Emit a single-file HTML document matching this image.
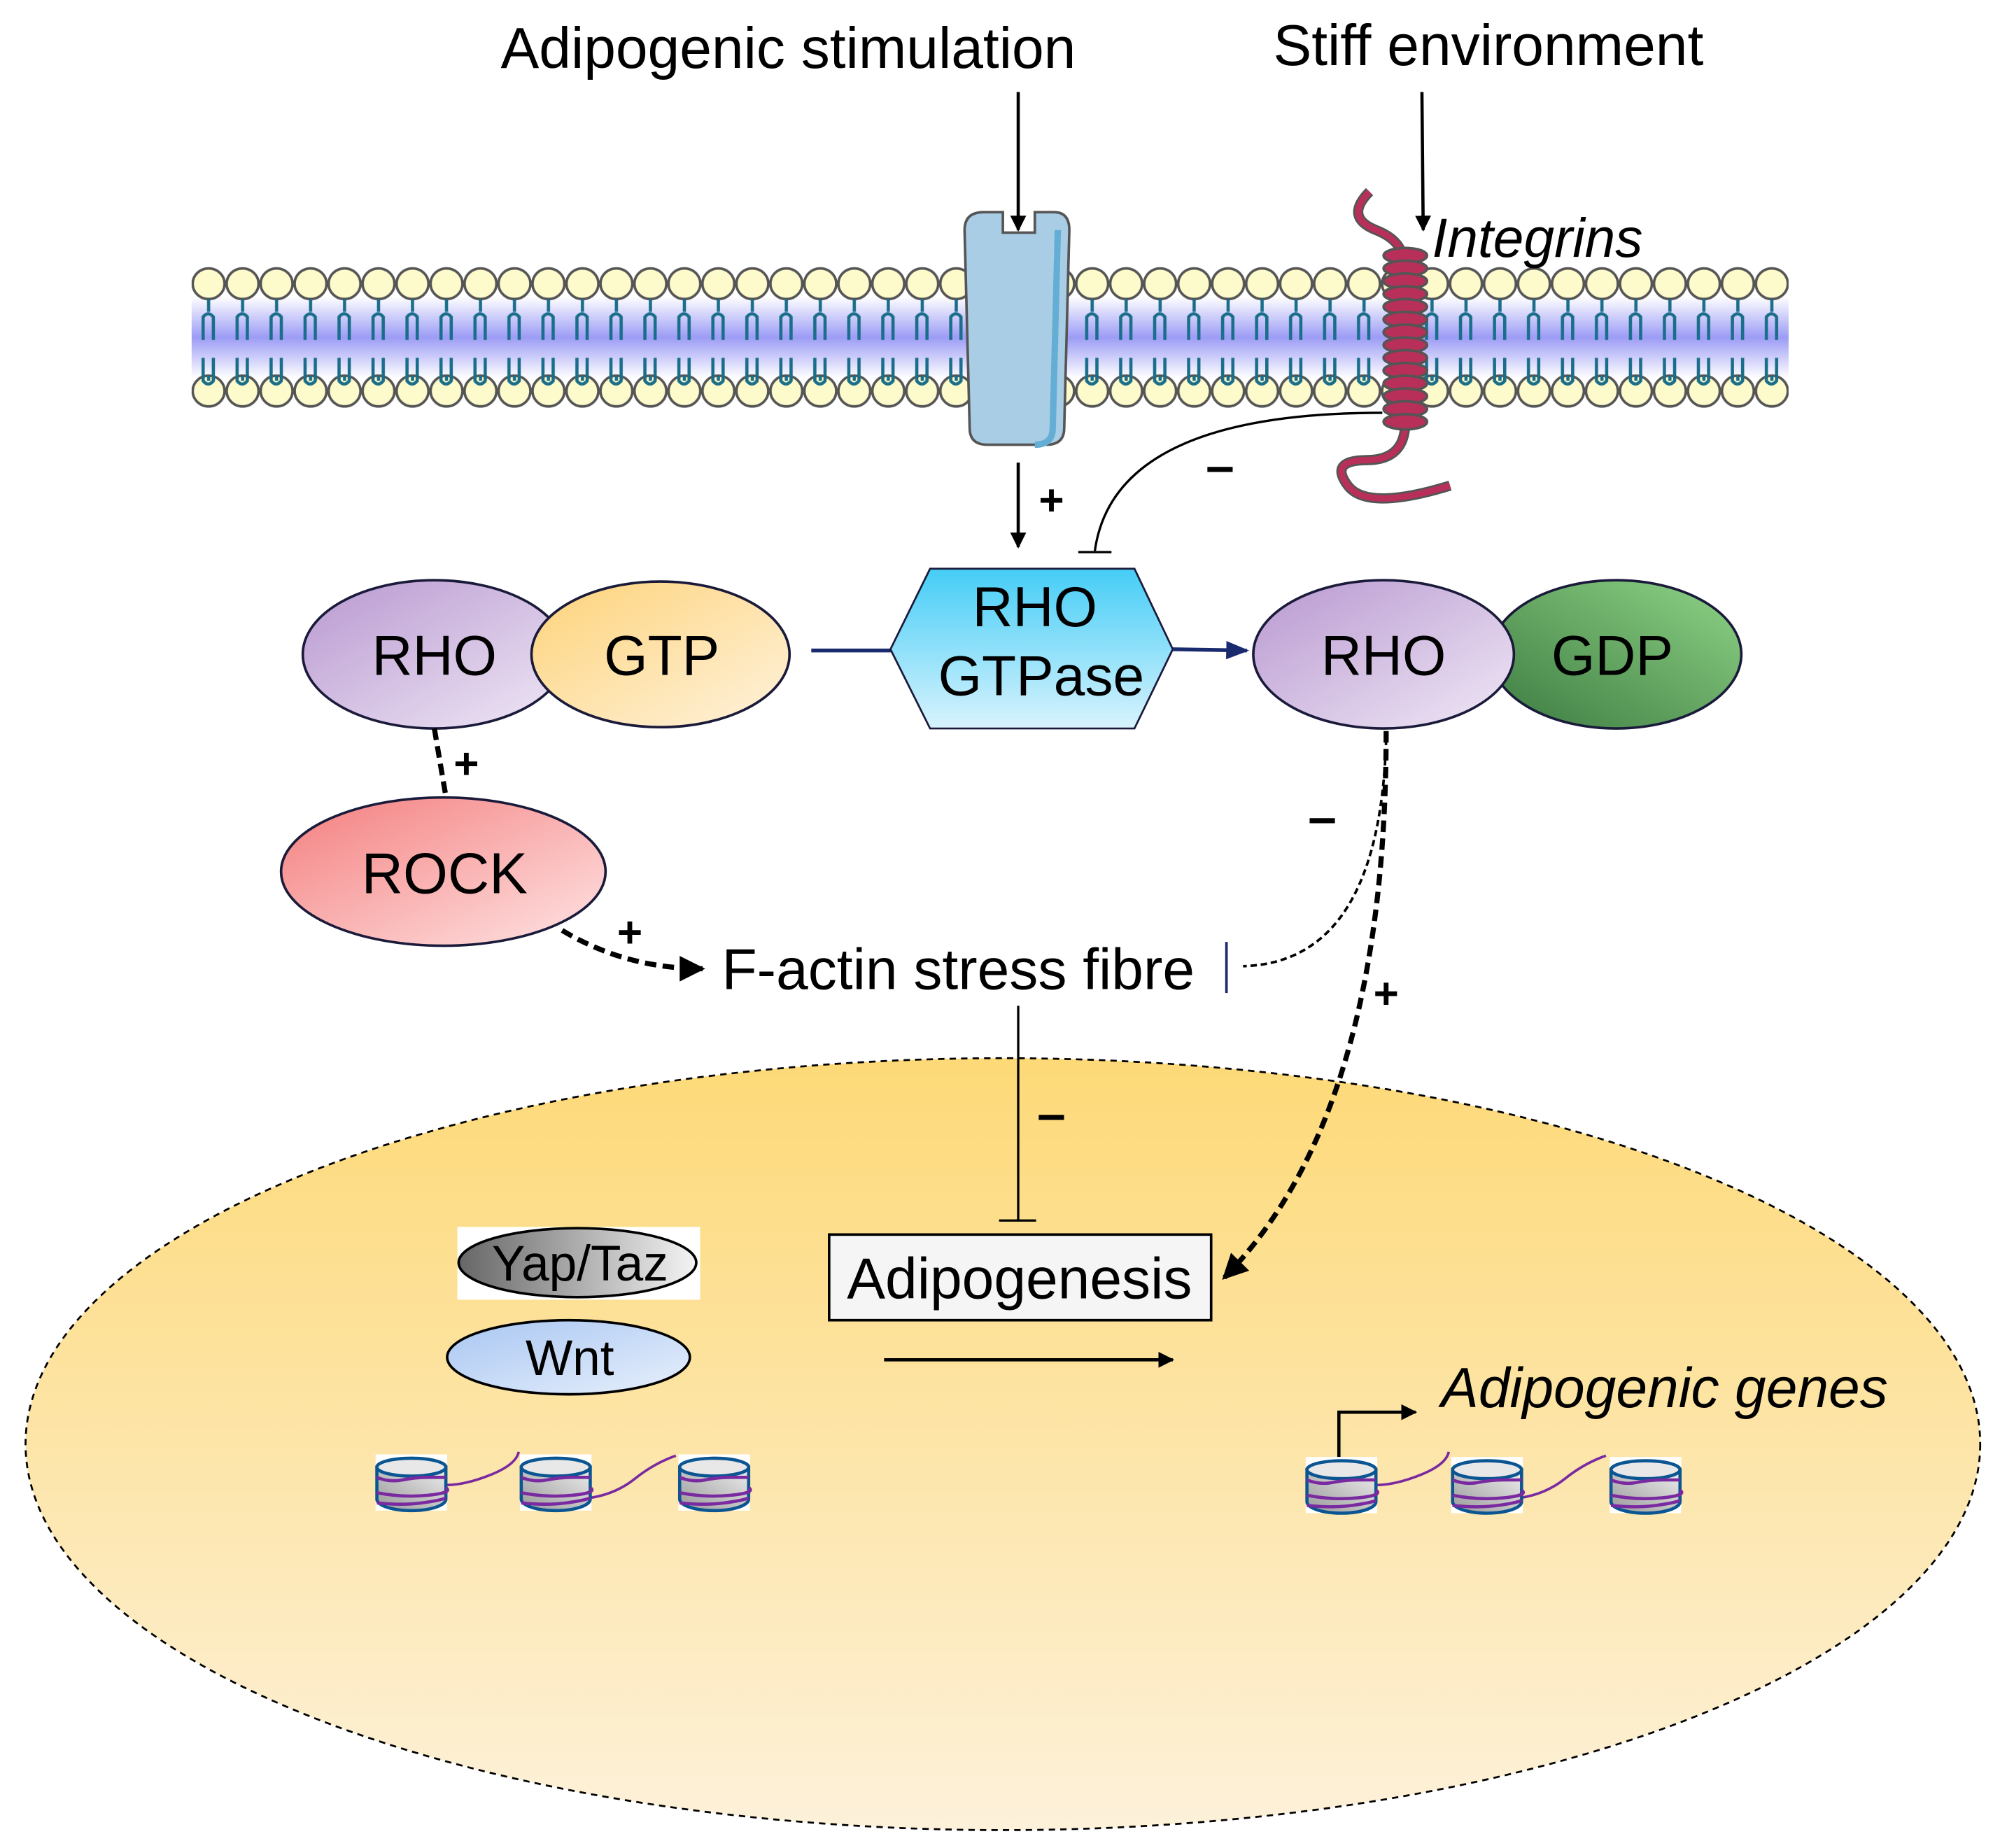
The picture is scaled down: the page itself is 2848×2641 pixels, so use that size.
<!DOCTYPE html>
<html><head><meta charset="utf-8"><style>html,body{margin:0;padding:0;background:#fff}svg{display:block}</style></head>
<body>
<svg width="2848" height="2641" viewBox="0 0 1560 1446" preserveAspectRatio="none" xmlns="http://www.w3.org/2000/svg" xmlns:xlink="http://www.w3.org/1999/xlink" font-family="Liberation Sans, Arial, sans-serif">
<defs>
<linearGradient id="band" x1="0" y1="0" x2="0" y2="1"><stop offset="0" stop-color="#fff"/><stop offset="0.5" stop-color="#9c9cf6"/><stop offset="1" stop-color="#fff"/></linearGradient>
<pattern id="lip" x="150" y="200" width="26.6" height="130" patternUnits="userSpaceOnUse">
<ellipse cx="13.3" cy="22" rx="12.5" ry="12" fill="#fdfacc" stroke="#555" stroke-width="2"/>
<ellipse cx="13.3" cy="106" rx="12.5" ry="12" fill="#fdfacc" stroke="#555" stroke-width="2"/>
<path d="M13.3 34v10M9 66v-18q4-5 8 0v18M9 80v18q4 5 8 0v-18M13.3 98v-4" stroke="#1a6e8a" stroke-width="2.5" fill="none"/>
</pattern>
<linearGradient id="nuc" x1="0" y1="0" x2="0" y2="1"><stop offset="0" stop-color="#fdd977"/><stop offset="1" stop-color="#fdf1da"/></linearGradient>
<linearGradient id="pur" x1="0" y1="0" x2="1" y2="1"><stop offset="0" stop-color="#b898d0"/><stop offset="1" stop-color="#f0e8f6"/></linearGradient>
<linearGradient id="yel" x1="0" y1="0" x2="1" y2="1"><stop offset="0" stop-color="#fdd37a"/><stop offset="1" stop-color="#fff2dc"/></linearGradient>
<linearGradient id="grn" x1="0" y1="1" x2="1" y2="0"><stop offset="0" stop-color="#3c7a40"/><stop offset="1" stop-color="#8fd487"/></linearGradient>
<linearGradient id="cyan" x1="0" y1="0" x2="0" y2="1"><stop offset="0" stop-color="#45cdf6"/><stop offset="1" stop-color="#d8f3fd"/></linearGradient>
<linearGradient id="pink" x1="0" y1="0" x2="1" y2="1"><stop offset="0" stop-color="#f47e7e"/><stop offset="1" stop-color="#ffe4e4"/></linearGradient>
<linearGradient id="gray" x1="0" y1="0" x2="1" y2="0"><stop offset="0" stop-color="#666"/><stop offset="1" stop-color="#f4f4f4"/></linearGradient>
<linearGradient id="blu" x1="0" y1="0" x2="1" y2="1"><stop offset="0" stop-color="#a8c6f2"/><stop offset="1" stop-color="#e8f0fc"/></linearGradient>
<linearGradient id="cylg" x1="0" y1="1" x2="1" y2="0"><stop offset="0" stop-color="#999"/><stop offset="1" stop-color="#eee"/></linearGradient>
<marker id="ah" viewBox="0 0 10 10" refX="9" refY="5" markerWidth="5" markerHeight="5" orient="auto"><path d="M0 0L10 5L0 10z" fill="#000"/></marker>
<marker id="ahn" viewBox="0 0 10 10" refX="9" refY="5" markerWidth="6" markerHeight="6" orient="auto"><path d="M0 1L10 5L0 9z" fill="#1a2a6e"/></marker>
</defs>
<rect width="1560" height="1446" fill="#fff"/>
<!-- nucleus -->
<ellipse cx="785" cy="1130" rx="765" ry="302" fill="url(#nuc)" stroke="#000" stroke-width="1.5" stroke-dasharray="5 4"/>
<!-- membrane -->
<rect x="150" y="232" width="1250" height="64" fill="url(#band)"/>
<rect x="150" y="200" width="1250" height="130" fill="url(#lip)"/>
<!-- receptor -->
<path d="M770 166h15v16h25v-16h15q12 0 12 14l-4 155q0 13-14 13h-46q-14 0-14-13l-4-155q0-14 15-14z" fill="#a9cde4" stroke="#555" stroke-width="2"/>
<path d="M828 180l-4 155q0 13-14 13" stroke="#64aed6" stroke-width="5" fill="none"/>
<!-- integrin -->
<path d="M1072 150q-20 20 5 30t20 30M1100 330q0 30-30 30t-15 20 80 0" stroke="#555" stroke-width="8" fill="none"/>
<path d="M1072 150q-20 20 5 30t20 30M1100 330q0 30-30 30t-15 20 80 0" stroke="#b8305a" stroke-width="5" fill="none"/>
<g stroke="#555" stroke-width="2" fill="#b8305a">
<ellipse cx="1100" cy="200" rx="17" ry="6"/><ellipse cx="1100" cy="210" rx="17" ry="6"/><ellipse cx="1100" cy="220" rx="17" ry="6"/><ellipse cx="1100" cy="230" rx="17" ry="6"/><ellipse cx="1100" cy="240" rx="17" ry="6"/><ellipse cx="1100" cy="250" rx="17" ry="6"/><ellipse cx="1100" cy="260" rx="17" ry="6"/><ellipse cx="1100" cy="270" rx="17" ry="6"/><ellipse cx="1100" cy="280" rx="17" ry="6"/><ellipse cx="1100" cy="290" rx="17" ry="6"/><ellipse cx="1100" cy="300" rx="17" ry="6"/><ellipse cx="1100" cy="310" rx="17" ry="6"/><ellipse cx="1100" cy="320" rx="17" ry="6"/><ellipse cx="1100" cy="330" rx="17" ry="6"/>
</g>
<!-- top texts & arrows -->
<text x="617" y="53" font-size="45" text-anchor="middle">Adipogenic stimulation</text>
<text x="1165" y="51" font-size="45" text-anchor="middle">Stiff environment</text>
<text x="1121" y="201" font-size="43" font-style="italic">Integrins</text>
<line x1="797" y1="72" x2="797" y2="180" stroke="#000" stroke-width="2.5" marker-end="url(#ah)"/>
<line x1="1113" y1="72" x2="1114" y2="180" stroke="#000" stroke-width="2.5" marker-end="url(#ah)"/>
<line x1="797" y1="362" x2="797" y2="428" stroke="#000" stroke-width="2.5" marker-end="url(#ah)"/>
<text x="823" y="403" font-size="34" font-weight="bold" text-anchor="middle">+</text>
<path d="M1082 323q-210 0-225 108" stroke="#000" stroke-width="1.8" fill="none"/>
<line x1="844" y1="432" x2="870" y2="432" stroke="#000" stroke-width="1.8"/>
<text x="955" y="378" font-size="40" font-weight="bold" text-anchor="middle">–</text>
<!-- RHO GTP -->
<ellipse cx="340" cy="512" rx="103" ry="58" fill="url(#pur)" stroke="#1a1a3a" stroke-width="2"/>
<ellipse cx="517" cy="512" rx="101" ry="57" fill="url(#yel)" stroke="#1a1a3a" stroke-width="2"/>
<text x="340" y="528" font-size="44" text-anchor="middle">RHO</text>
<text x="518" y="528" font-size="44" text-anchor="middle">GTP</text>
<line x1="635" y1="509" x2="698" y2="509" stroke="#1a2a6e" stroke-width="3"/>
<polygon points="697,508 728,445 888,445 918,508 888,570 728,570" fill="url(#cyan)" stroke="#1a1a3a" stroke-width="1.5"/>
<text x="810" y="490" font-size="44" text-anchor="middle">RHO</text>
<text x="815" y="544" font-size="44" text-anchor="middle">GTPase</text>
<line x1="918" y1="508" x2="976" y2="509" stroke="#1a2a6e" stroke-width="3" marker-end="url(#ahn)"/>
<ellipse cx="1265" cy="512" rx="98" ry="58" fill="url(#grn)" stroke="#1a1a3a" stroke-width="2"/>
<ellipse cx="1083" cy="512" rx="102" ry="58" fill="url(#pur)" stroke="#1a1a3a" stroke-width="2"/>
<text x="1083" y="528" font-size="44" text-anchor="middle">RHO</text>
<text x="1262" y="528" font-size="44" text-anchor="middle">GDP</text>
<!-- ROCK -->
<path d="M340 570q5 30 9 53" stroke="#000" stroke-width="4" stroke-dasharray="9 5" fill="none"/>
<text x="365" y="609" font-size="34" font-weight="bold" text-anchor="middle">+</text>
<ellipse cx="347" cy="682" rx="127" ry="58" fill="url(#pink)" stroke="#1a1a3a" stroke-width="2"/>
<text x="348" y="699" font-size="45" text-anchor="middle">ROCK</text>
<path d="M440 728q50 30 110 30" stroke="#000" stroke-width="4" stroke-dasharray="9 5" fill="none" marker-end="url(#ah)"/>
<text x="493" y="741" font-size="34" font-weight="bold" text-anchor="middle">+</text>
<text x="565" y="774" font-size="45">F-actin stress fibre</text>
<!-- RHO-GDP lines -->
<path d="M1085 578q-5 175-112 178" stroke="#000" stroke-width="2" stroke-dasharray="5 3" fill="none"/>
<line x1="960" y1="737" x2="960" y2="777" stroke="#1a2a6e" stroke-width="2"/>
<text x="1035" y="653" font-size="40" font-weight="bold" text-anchor="middle">–</text>
<path d="M1085 572q0 300-127 428" stroke="#000" stroke-width="4" stroke-dasharray="9 5" fill="none" marker-end="url(#ah)"/>
<text x="1085" y="789" font-size="34" font-weight="bold" text-anchor="middle">+</text>
<line x1="797" y1="787" x2="797" y2="955" stroke="#000" stroke-width="1.8"/>
<line x1="782" y1="955" x2="811" y2="955" stroke="#000" stroke-width="1.8"/>
<text x="823" y="885" font-size="40" font-weight="bold" text-anchor="middle">–</text>
<!-- nucleus contents -->
<rect x="358" y="960" width="190" height="57" fill="#fff"/>
<ellipse cx="452" cy="988" rx="93" ry="27" fill="url(#gray)" stroke="#000" stroke-width="2"/>
<text x="454" y="1002" font-size="39" text-anchor="middle">Yap/Taz</text>
<ellipse cx="445" cy="1062" rx="95" ry="29" fill="url(#blu)" stroke="#000" stroke-width="2"/>
<text x="446" y="1076" font-size="39" text-anchor="middle">Wnt</text>
<rect x="649" y="966" width="299" height="67" fill="#f5f5f5" stroke="#000" stroke-width="2"/>
<text x="798" y="1016" font-size="45" text-anchor="middle">Adipogenesis</text>
<line x1="692" y1="1064" x2="918" y2="1064" stroke="#000" stroke-width="2.5" marker-end="url(#ah)"/>
<text x="1128" y="1101" font-size="44" font-style="italic">Adipogenic genes</text>
<path d="M1048 1145v-40h60" stroke="#000" stroke-width="2.5" fill="none" marker-end="url(#ah)"/>
<path d="M349 1162q15 0 35-8t22-18M462 1172q20-3 35-15t32-18" stroke="#7a2aa0" stroke-width="2" fill="none"/>
<path d="M1077 1162q15 0 35-8t22-18M1190 1172q20-3 35-15t32-18" stroke="#7a2aa0" stroke-width="2" fill="none"/>
<g transform="translate(322 1160)"><rect x="-28" y="-22" width="56" height="44" fill="#fff"/><path d="M-27 -12v25a27 9 0 0 0 54 0v-25z" fill="url(#cylg)" stroke="#0a5592" stroke-width="2.5"/><ellipse cx="0" cy="-12" rx="27" ry="7" fill="#e8e8e8" stroke="#0a5592" stroke-width="2.5"/><path d="M-27 -4q10 4 20 2t20 -2 14 0M-27 8q20 4 40 2t14 -6M-27 16q20 2 35 0t19 -4" stroke="#7a2aa0" stroke-width="2.5" fill="none"/></g>
<g transform="translate(435 1160)"><rect x="-28" y="-22" width="56" height="44" fill="#fff"/><path d="M-27 -12v25a27 9 0 0 0 54 0v-25z" fill="url(#cylg)" stroke="#0a5592" stroke-width="2.5"/><ellipse cx="0" cy="-12" rx="27" ry="7" fill="#e8e8e8" stroke="#0a5592" stroke-width="2.5"/><path d="M-27 -4q10 4 20 2t20 -2 14 0M-27 8q20 4 40 2t14 -6M-27 16q20 2 35 0t19 -4" stroke="#7a2aa0" stroke-width="2.5" fill="none"/></g>
<g transform="translate(559 1160)"><rect x="-28" y="-22" width="56" height="44" fill="#fff"/><path d="M-27 -12v25a27 9 0 0 0 54 0v-25z" fill="url(#cylg)" stroke="#0a5592" stroke-width="2.5"/><ellipse cx="0" cy="-12" rx="27" ry="7" fill="#e8e8e8" stroke="#0a5592" stroke-width="2.5"/><path d="M-27 -4q10 4 20 2t20 -2 14 0M-27 8q20 4 40 2t14 -6M-27 16q20 2 35 0t19 -4" stroke="#7a2aa0" stroke-width="2.5" fill="none"/></g>
<g transform="translate(1050 1162)"><rect x="-28" y="-22" width="56" height="44" fill="#fff"/><path d="M-27 -12v25a27 9 0 0 0 54 0v-25z" fill="url(#cylg)" stroke="#0a5592" stroke-width="2.5"/><ellipse cx="0" cy="-12" rx="27" ry="7" fill="#e8e8e8" stroke="#0a5592" stroke-width="2.5"/><path d="M-27 -4q10 4 20 2t20 -2 14 0M-27 8q20 4 40 2t14 -6M-27 16q20 2 35 0t19 -4" stroke="#7a2aa0" stroke-width="2.5" fill="none"/></g>
<g transform="translate(1164 1162)"><rect x="-28" y="-22" width="56" height="44" fill="#fff"/><path d="M-27 -12v25a27 9 0 0 0 54 0v-25z" fill="url(#cylg)" stroke="#0a5592" stroke-width="2.5"/><ellipse cx="0" cy="-12" rx="27" ry="7" fill="#e8e8e8" stroke="#0a5592" stroke-width="2.5"/><path d="M-27 -4q10 4 20 2t20 -2 14 0M-27 8q20 4 40 2t14 -6M-27 16q20 2 35 0t19 -4" stroke="#7a2aa0" stroke-width="2.5" fill="none"/></g>
<g transform="translate(1288 1162)"><rect x="-28" y="-22" width="56" height="44" fill="#fff"/><path d="M-27 -12v25a27 9 0 0 0 54 0v-25z" fill="url(#cylg)" stroke="#0a5592" stroke-width="2.5"/><ellipse cx="0" cy="-12" rx="27" ry="7" fill="#e8e8e8" stroke="#0a5592" stroke-width="2.5"/><path d="M-27 -4q10 4 20 2t20 -2 14 0M-27 8q20 4 40 2t14 -6M-27 16q20 2 35 0t19 -4" stroke="#7a2aa0" stroke-width="2.5" fill="none"/></g>
</svg>
</body></html>
